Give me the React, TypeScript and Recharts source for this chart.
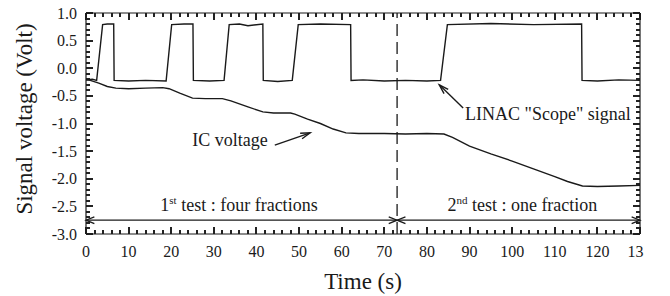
import React from 'react'
import { LineChart, Line, XAxis, YAxis, ReferenceLine, ReferenceDot } from 'recharts'

// LINAC "Scope" signal (time in s, voltage in V)
const scopeTime = [0, 1.5, 2.5, 3.9, 5, 6.5, 6.6, 10, 14, 18.8, 20.1, 23, 25.1, 25.2, 29, 32.4, 33.6, 36, 38, 41.5, 41.6, 45, 48.4, 49.8, 55, 62.1, 62.2, 65, 70, 75, 80, 83.2, 84.8, 95, 105, 116.3, 116.4, 120, 125, 130]
const scopeVolt = [-0.21, -0.2, -0.22, 0.79, 0.8, 0.8, -0.22, -0.23, -0.22, -0.23, 0.79, 0.8, 0.8, -0.22, -0.23, -0.22, 0.79, 0.8, 0.77, 0.8, -0.22, -0.24, -0.22, 0.79, 0.8, 0.79, -0.22, -0.21, -0.23, -0.22, -0.23, -0.22, 0.79, 0.81, 0.79, 0.8, -0.22, -0.23, -0.21, -0.22]

// IC voltage
const icTime = [0, 1, 3, 5, 7, 10, 14, 18, 19.5, 22, 25, 28, 32, 34, 38, 41.5, 44, 48, 49, 52, 55, 58, 61, 64, 70, 75, 80, 84, 86, 90, 95, 100, 105, 110, 113, 116.5, 120, 125, 130]
const icVolt = [-0.21, -0.22, -0.27, -0.33, -0.36, -0.37, -0.36, -0.35, -0.37, -0.45, -0.54, -0.55, -0.55, -0.59, -0.7, -0.79, -0.81, -0.81, -0.83, -0.92, -1.0, -1.1, -1.17, -1.18, -1.18, -1.19, -1.18, -1.19, -1.25, -1.41, -1.55, -1.68, -1.82, -1.96, -2.05, -2.13, -2.14, -2.13, -2.12]

const xMajor = [0, 10, 20, 30, 40, 50, 60, 70, 80, 90, 100, 110, 120, 130]
const yMajor = [-3, -2.5, -2, -1.5, -1, -0.5, 0, 0.5, 1]
const xTicks = Array.from({ length: 66 }, (_, i) => i * 2)
const yTicks = Array.from({ length: 41 }, (_, i) => Math.round(i - 30) / 10)

const xDomain = [0, 130]
const yDomain = [-3, 1]
const splitTime = 73
const arrowLevel = -2.75

const scopeData = scopeTime.map((t, i) => ({ t, v: scopeVolt[i] }))
const icData = icTime.map((t, i) => ({ t, v: icVolt[i] }))

const FONT = "'Liberation Serif', 'DejaVu Serif', 'Times New Roman', serif"
const INK = '#1a1a1a'
const txt = { fontFamily: FONT }

const isXMajor = (v: number) => xMajor.includes(v)
const isYMajor = (v: number) => yMajor.some((m) => Math.abs(m - v) < 1e-6)

function XLabel(props: any) {
  const { x, y, payload } = props
  const v = payload.value
  return (
    <text
      x={v === 130 ? x - 12.5 : x}
      y={y + 23}
      textAnchor={v === 130 ? 'start' : 'middle'}
      style={txt}
      fontSize={16}
      fill={INK}
    >
      {v === 130 ? '13' : v}
    </text>
  )
}

function YLabel(props: any) {
  const { x, y, payload } = props
  const v = payload.value
  return (
    <text x={x - 9} y={y + 5.5} textAnchor="end" style={txt} fontSize={16} fill={INK}>
      {v.toFixed(1)}
    </text>
  )
}

// a row of inward tick marks along one side of the frame; endpoints come from the axis scale
function TickRow(p: any) {
  const { x1, y1, x2, y2, values, from, to, major, inward } = p
  let d = ''
  values.forEach((v: number) => {
    const f = (v - from) / (to - from)
    const px = Math.round(x1 + f * (x2 - x1))
    const py = Math.round(y1 + f * (y2 - y1))
    const len = major(v) ? 7 : 4
    d += `M${px},${py}L${px + inward[0] * len},${py + inward[1] * len}`
  })
  return <path d={d} fill="none" stroke="#222" strokeWidth={2} />
}

function head(x1: number, y1: number, x2: number, y2: number, len = 9, spread = 0.38) {
  const a = Math.atan2(y1 - y2, x1 - x2)
  const ax = x2 + len * Math.cos(a + spread)
  const ay = y2 + len * Math.sin(a + spread)
  const bx = x2 + len * Math.cos(a - spread)
  const by = y2 + len * Math.sin(a - spread)
  return `M${ax},${ay} L${x2},${y2} L${bx},${by}`
}

function DoubleArrow(p: any) {
  const { x1, y1, x2, y2 } = p
  return (
    <g fill="none" stroke={INK} strokeWidth={1.3}>
      <line x1={x1} y1={y1} x2={x2} y2={y2} />
      <path d={head(x2, y2, x1, y1)} />
      <path d={head(x1, y1, x2, y2)} />
    </g>
  )
}

function PointerArrow(p: any) {
  const { x1, y1, x2, y2 } = p
  return (
    <g fill="none" stroke={INK} strokeWidth={1.4}>
      <line x1={x1} y1={y1} x2={x2} y2={y2} />
      <path d={head(x1, y1, x2, y2, 10, 0.3)} />
    </g>
  )
}

function Note({ cx, cy, children }: any) {
  return (
    <text x={cx} y={cy} textAnchor="middle" style={txt} fontSize={18} fill={INK}>
      {children}
    </text>
  )
}

const YTitle = () => (
  <text x={0} y={0} transform="translate(32,119) rotate(-90)" textAnchor="middle" style={txt} fontSize={23} fill={INK}>
    Signal voltage (Volt)
  </text>
)

const XTitle = () => (
  <text x={363} y={289} textAnchor="middle" style={txt} fontSize={23} fill={INK}>
    Time (s)
  </text>
)

const ids = { xAxisId: 'b', yAxisId: 'l' }

export default function App() {
  return (
    <div style={{ position: 'absolute', left: 0, top: 0, width: 670, height: 296, background: '#fff' }}>
      <LineChart width={670} height={296} margin={{ top: 12, right: 29, bottom: 61, left: 85 }}>
        <XAxis
          xAxisId="b"
          dataKey="t"
          type="number"
          domain={xDomain}
          ticks={xMajor}
          interval={0}
          height={1}
          tickSize={0}
          tickMargin={0}
          tickLine={false}
          axisLine={{ stroke: INK, strokeWidth: 1.2 }}
          tick={(p: any) => <XLabel {...p} />}
          label={<XTitle />}
        />
        <XAxis
          xAxisId="t"
          orientation="top"
          dataKey="t"
          type="number"
          domain={xDomain}
          height={1}
          tick={false}
          tickLine={false}
          axisLine={{ stroke: INK, strokeWidth: 1.2 }}
        />
        <YAxis
          yAxisId="l"
          type="number"
          domain={yDomain}
          ticks={yMajor}
          interval={0}
          width={1}
          tickSize={0}
          tickMargin={0}
          tickLine={false}
          axisLine={{ stroke: INK, strokeWidth: 1.2 }}
          tick={(p: any) => <YLabel {...p} />}
          label={<YTitle />}
        />
        <YAxis
          yAxisId="r"
          orientation="right"
          type="number"
          domain={yDomain}
          width={1}
          tick={false}
          tickLine={false}
          axisLine={{ stroke: INK, strokeWidth: 1.2 }}
        />

        <ReferenceLine
          {...ids}
          segment={[{ x: xDomain[0], y: yDomain[0] }, { x: xDomain[1], y: yDomain[0] }]}
          shape={(p: any) => (
            <TickRow {...p} values={xTicks} from={xDomain[0]} to={xDomain[1]} major={isXMajor} inward={[0, -1]} />
          )}
        />
        <ReferenceLine
          {...ids}
          segment={[{ x: xDomain[0], y: yDomain[1] }, { x: xDomain[1], y: yDomain[1] }]}
          shape={(p: any) => (
            <TickRow {...p} values={xTicks} from={xDomain[0]} to={xDomain[1]} major={isXMajor} inward={[0, 1]} />
          )}
        />
        <ReferenceLine
          {...ids}
          segment={[{ x: xDomain[0], y: yDomain[0] }, { x: xDomain[0], y: yDomain[1] }]}
          shape={(p: any) => (
            <TickRow {...p} values={yTicks} from={yDomain[0]} to={yDomain[1]} major={isYMajor} inward={[1, 0]} />
          )}
        />
        <ReferenceLine
          {...ids}
          segment={[{ x: xDomain[1], y: yDomain[0] }, { x: xDomain[1], y: yDomain[1] }]}
          shape={(p: any) => (
            <TickRow {...p} values={yTicks} from={yDomain[0]} to={yDomain[1]} major={isYMajor} inward={[-1, 0]} />
          )}
        />

        <ReferenceLine {...ids} x={splitTime} stroke={INK} strokeWidth={1.3} strokeDasharray="12 6" />
        <ReferenceLine
          {...ids}
          segment={[{ x: 0, y: arrowLevel }, { x: splitTime, y: arrowLevel }]}
          shape={(p: any) => <DoubleArrow {...p} />}
        />
        <ReferenceLine
          {...ids}
          segment={[{ x: splitTime, y: arrowLevel }, { x: 130, y: arrowLevel }]}
          shape={(p: any) => <DoubleArrow {...p} />}
        />
        <ReferenceLine
          {...ids}
          segment={[{ x: 44.3, y: -1.39 }, { x: 52.6, y: -1.17 }]}
          shape={(p: any) => <PointerArrow {...p} />}
        />
        <ReferenceLine
          {...ids}
          segment={[{ x: 88.5, y: -0.72 }, { x: 82.9, y: -0.3 }]}
          shape={(p: any) => <PointerArrow {...p} />}
        />

        <Line {...ids} data={scopeData} dataKey="v" type="linear" stroke={INK} strokeWidth={1.4} dot={false} isAnimationActive={false} />
        <Line {...ids} data={icData} dataKey="v" type="linear" stroke={INK} strokeWidth={1.4} dot={false} isAnimationActive={false} />

        <ReferenceDot {...ids} x={33.8} y={-1.41} r={0} shape={(p: any) => <Note {...p}>IC voltage</Note>} />
        <ReferenceDot {...ids} x={108.4} y={-0.93} r={0} shape={(p: any) => <Note {...p}>LINAC "Scope" signal</Note>} />
        <ReferenceDot
          {...ids}
          x={35.9}
          y={-2.58}
          r={0}
          shape={(p: any) => (
            <Note {...p}>
              1<tspan dy={-7} fontSize={11}>st</tspan>
              <tspan dy={7}> test : four fractions</tspan>
            </Note>
          )}
        />
        <ReferenceDot
          {...ids}
          x={102.4}
          y={-2.58}
          r={0}
          shape={(p: any) => (
            <Note {...p}>
              2<tspan dy={-7} fontSize={11}>nd</tspan>
              <tspan dy={7}> test : one fraction</tspan>
            </Note>
          )}
        />
      </LineChart>
    </div>
  )
}
